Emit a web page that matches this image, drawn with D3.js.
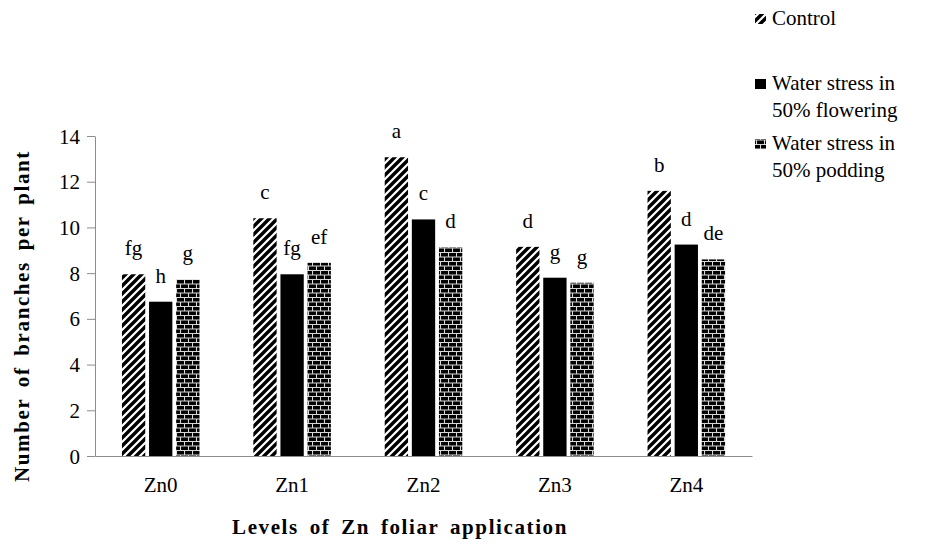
<!DOCTYPE html>
<html lang="en">
<head>
    <meta charset="UTF-8">
    <title>Branches per plant</title>
    <script src="https://d3js.org/d3.v7.min.js"></script>
    <style>
        body { margin: 0; background: #fff; }
    </style>
</head>
<body>
    <script>
        const levels = ["Zn0", "Zn1", "Zn2", "Zn3", "Zn4"];
        const seriesNames = ["Control", "Water stress in 50% flowering", "Water stress in 50% podding"];
        const control = [7.95, 10.4, 13.07, 9.15, 11.6];
        const flowering = [6.75, 7.95, 10.35, 7.8, 9.25];
        const podding = [7.73, 8.45, 9.13, 7.58, 8.6];
        const letters = [
            ["fg", "c", "a", "d", "b"],
            ["h", "fg", "c", "g", "d"],
            ["g", "ef", "d", "g", "de"]
        ];
        const yTicks = [0, 2, 4, 6, 8, 10, 12, 14];

        const w = 934;
        const h = 547;
        const plotLeft = 95, plotRight = 752, plotTop = 136, plotBottom = 456;
        const serif = "'Liberation Serif', 'DejaVu Serif', serif";

        const svg = d3.select("body")
            .append("svg")
            .attr("width", w)
            .attr("height", h)
            .style("font-family", serif);

        // patterns for the bar fills
        const defs = svg.append("defs");
        const diag = defs.append("pattern")
            .attr("id", "diag")
            .attr("patternUnits", "userSpaceOnUse")
            .attr("width", 8).attr("height", 8);
        diag.append("rect").attr("width", 8).attr("height", 8).attr("fill", "#fff");
        diag.append("path")
            .attr("d", "M-2,10 L10,-2 M-2,2 L2,-2 M6,10 L10,6")
            .attr("stroke", "#000").attr("stroke-width", 3.4);

        const brick = defs.append("pattern")
            .attr("id", "brick")
            .attr("patternUnits", "userSpaceOnUse")
            .attr("width", 8).attr("height", 9);
        brick.append("rect").attr("width", 8).attr("height", 9).attr("fill", "#000");
        brick.append("path")
            .attr("d", "M0,0.5 H8 M0,5 H8 M0.5,0 V4.5 M4.5,4.5 V9")
            .attr("stroke", "#d8d8d8").attr("stroke-width", 1.1);

        const fills = ["url(#diag)", "#000", "url(#brick)"];

        const x0 = d3.scaleBand()
            .domain(levels)
            .range([plotLeft, plotRight])
            .paddingInner(0.41)
            .paddingOuter(0.205);

        const x1 = d3.scaleBand()
            .domain([0, 1, 2])
            .range([0, x0.bandwidth()])
            .paddingInner(0.14);

        const y = d3.scaleLinear()
            .domain([0, 14])
            .range([plotBottom, plotTop]);

        const data = [control, flowering, podding];

        // y axis
        const yAxis = d3.axisLeft(y).tickValues(yTicks).tickSize(8).tickSizeOuter(0);
        const gy = svg.append("g")
            .attr("transform", "translate(" + plotLeft + ",0)")
            .call(yAxis)
            .attr("font-family", null);
        gy.select(".domain").attr("stroke", "#8c8c8c");
        gy.selectAll(".tick line").attr("stroke", "#8c8c8c");
        gy.selectAll(".tick text")
            .attr("x", -15)
            .attr("dy", "0.34em")
            .style("font-size", "21px")
            .style("font-family", serif);

        // bars
        data.forEach((vals, s) => {
            svg.append("g").selectAll("rect")
                .data(vals)
                .enter()
                .append("rect")
                .attr("x", (d, i) => x0(levels[i]) + x1(s))
                .attr("y", (d) => y(d))
                .attr("width", x1.bandwidth())
                .attr("height", (d) => y(0) - y(d))
                .attr("fill", fills[s]);

            svg.append("g").selectAll("text")
                .data(vals)
                .enter()
                .append("text")
                .attr("x", (d, i) => x0(levels[i]) + x1(s) + x1.bandwidth() / 2)
                .attr("y", (d) => y(d) - 19)
                .attr("text-anchor", "middle")
                .style("font-size", "21px")
                .style("font-family", serif)
                .text((d, i) => letters[s][i]);
        });

        // x axis
        const xAxis = d3.axisBottom(x0).tickSize(0).tickSizeOuter(0);
        const gx = svg.append("g")
            .attr("transform", "translate(0," + plotBottom + ")")
            .call(xAxis)
            .attr("font-family", null);
        gx.select(".domain").attr("stroke", "#8c8c8c");
        gx.selectAll(".tick text")
            .attr("dy", "1.55em")
            .style("font-size", "21px")
            .style("font-family", serif);

        // axis titles
        svg.append("text")
            .attr("x", 400)
            .attr("y", 534)
            .attr("text-anchor", "middle")
            .style("font-family", serif)
            .style("font-size", "21px")
            .style("font-weight", "bold")
            .style("letter-spacing", "1.6px")
            .style("word-spacing", "4px")
            .text("Levels of Zn foliar application");

        svg.append("text")
            .attr("transform", "translate(29," + 316 + ") rotate(-90)")
            .attr("text-anchor", "middle")
            .style("font-family", serif)
            .style("font-size", "21px")
            .style("font-weight", "bold")
            .style("letter-spacing", "1.6px")
            .style("word-spacing", "4px")
            .text("Number of branches per plant");

        // legend
        const legendLines = [["Control"], ["Water stress in", "50% flowering"], ["Water stress in", "50% podding"]];
        const legendY = [25, 90, 150];
        const legend = svg.append("g");
        legendLines.forEach((lines, s) => {
            legend.append("rect")
                .attr("x", 755)
                .attr("y", legendY[s] - 11)
                .attr("width", 11)
                .attr("height", 10)
                .attr("fill", fills[s]);
            lines.forEach((t, k) => {
                legend.append("text")
                    .attr("x", 772)
                    .attr("y", legendY[s] + k * 27)
                    .style("font-family", serif)
                    .style("font-size", "21px")
                    .text(t);
            });
        });
    </script>
</body>
</html>
